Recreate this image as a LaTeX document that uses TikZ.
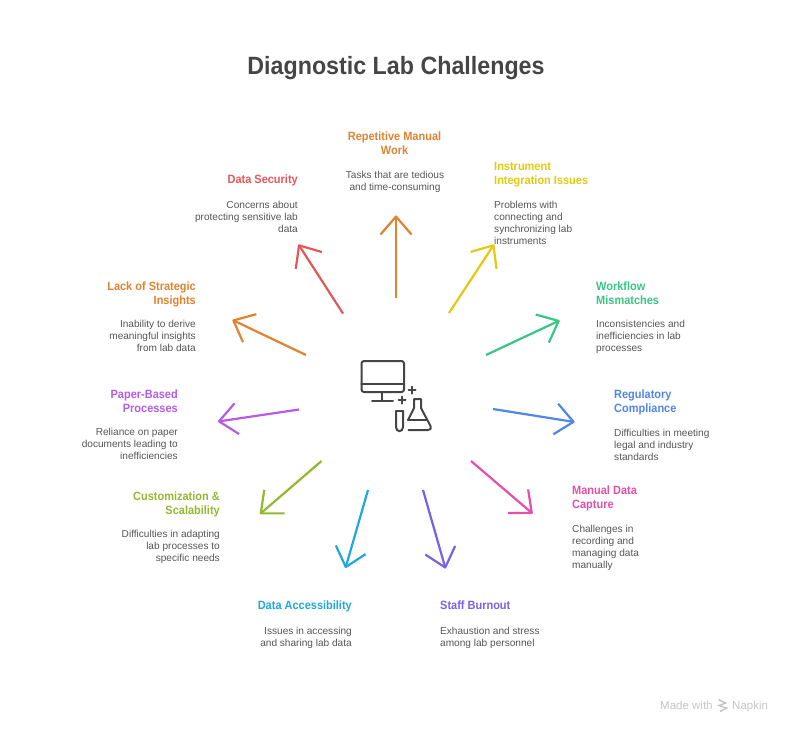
\documentclass[tikz,border=0pt]{standalone}
\usepackage{fontspec}
\setmainfont{Liberation Sans}
\newfontfamily\hfont[FakeStretch=0.915]{Liberation Sans}
\newfontfamily\tfont[FakeStretch=0.93]{Liberation Sans}
\usetikzlibrary{arrows.meta}
\definecolor{tcol}{HTML}{454545}
\definecolor{bcol}{HTML}{555555}
\definecolor{fcol}{HTML}{C4C4C4}
\definecolor{acol}{HTML}{E0822F}
\definecolor{ycol}{HTML}{E5C80F}
\definecolor{gcol}{HTML}{38C585}
\definecolor{bluecol}{HTML}{4F86E8}
\definecolor{pcol}{HTML}{E54FA8}
\definecolor{vcol}{HTML}{7A60E8}
\definecolor{ccol}{HTML}{1FA8DC}
\definecolor{lcol}{HTML}{93B82E}
\definecolor{mcol}{HTML}{B45CE5}
\definecolor{rcol}{HTML}{E55757}
\pgfdeclarearrow{
  name=OpenVee,
  setup code={
    \pgfarrowssetbackend{-18pt}
    \pgfarrowssetlineend{-0.5pt}
    \pgfarrowssettipend{1pt}
    \pgfarrowshullpoint{0pt}{0pt}
    \pgfarrowshullpoint{-18pt}{15.5pt}
    \pgfarrowshullpoint{-18pt}{-15.5pt}
  },
  drawing code={
    \pgfsetdash{}{0pt}
    \pgfsetroundjoin
    \pgfpathmoveto{\pgfqpoint{-18pt}{15.5pt}}
    \pgfpathlineto{\pgfqpoint{0pt}{0pt}}
    \pgfpathlineto{\pgfqpoint{-18pt}{-15.5pt}}
    \pgfusepathqstroke
  }
}
\tikzset{
 x=1pt,y=-1pt,
 arr/.style={line width=2.2pt,-{OpenVee},#1},
 hd/.style={font=\hfont\fontsize{12}{14}\selectfont\bfseries,inner sep=0pt,align=#1},
 bd/.style={font=\fontsize{10.1}{12}\selectfont,text=bcol,inner sep=0pt,align=#1},
 ic/.style={line width=2pt,draw=tcol,line cap=round,line join=round},
 foot/.style={font=\fontsize{11.5}{14}\selectfont,text=fcol,inner sep=0pt}
}
\begin{document}
\begin{tikzpicture}
\useasboundingbox (0,0) rectangle (792,732);
\node[font=\tfont\fontsize{25}{30}\selectfont\bfseries,text=tcol,inner sep=0pt] (title) at (396,68) {Diagnostic Lab Challenges};

\node[hd=center,text=acol] (h1) at (394.5,143) {Repetitive Manual\\Work};
\node[bd=center] (b1) at (395,181.5) {Tasks that are tedious\\and time-consuming};
\node[hd=left,text=ycol,anchor=north west] (h2) at (494,162) {Instrument\\Integration Issues};
\node[bd=left,anchor=north west] (b2) at (494,200.5) {Problems with\\connecting and\\synchronizing lab\\instruments};
\node[hd=left,text=gcol,anchor=north west] (h3) at (596,282) {Workflow\\Mismatches};
\node[bd=left,anchor=north west] (b3) at (596,320) {Inconsistencies and\\inefficiencies in lab\\processes};
\node[hd=left,text=bluecol,anchor=north west] (h4) at (614,390) {Regulatory\\Compliance};
\node[bd=left,anchor=north west] (b4) at (614,428.5) {Difficulties in meeting\\legal and industry\\standards};
\node[hd=left,text=pcol,anchor=north west] (h5) at (572,486) {Manual Data\\Capture};
\node[bd=left,anchor=north west] (b5) at (572,524.5) {Challenges in\\recording and\\managing data\\manually};
\node[hd=left,text=vcol,anchor=north west] (h6) at (440,601) {Staff Burnout};
\node[bd=left,anchor=north west] (b6) at (440,626.5) {Exhaustion and stress\\among lab personnel};
\node[hd=right,text=ccol,anchor=north east] (h7) at (352,601) {Data Accessibility};
\node[bd=right,anchor=north east] (b7) at (352,626.5) {Issues in accessing\\and sharing lab data};
\node[hd=right,text=lcol,anchor=north east] (h8) at (220,492) {Customization \&\\Scalability};
\node[bd=right,anchor=north east] (b8) at (220,530) {Difficulties in adapting\\lab processes to\\specific needs};
\node[hd=right,text=mcol,anchor=north east] (h9) at (178,390) {Paper-Based\\Processes};
\node[bd=right,anchor=north east] (b9) at (178,428) {Reliance on paper\\documents leading to\\inefficiencies};
\node[hd=right,text=acol,anchor=north east] (h10) at (196,282) {Lack of Strategic\\Insights};
\node[bd=right,anchor=north east] (b10) at (196,320) {Inability to derive\\meaningful insights\\from lab data};
\node[hd=right,text=rcol,anchor=north east] (h11) at (298,175) {Data Security};
\node[bd=right,anchor=north east] (b11) at (298,200.5) {Concerns about\\protecting sensitive lab\\data};

\coordinate (s1) at (396,298); \coordinate (e1) at (396,215.5);
\coordinate (s2) at (449,313); \coordinate (e2) at (494,244.5);
\coordinate (s3) at (486,355); \coordinate (e3) at (559.5,320.5);
\coordinate (s4) at (493,409); \coordinate (e4) at (574.5,422);
\coordinate (s5) at (471,461); \coordinate (e5) at (532.5,513.5);
\coordinate (s6) at (423,490); \coordinate (e6) at (445.5,568.5);
\coordinate (s7) at (368,490); \coordinate (e7) at (345.5,568);
\coordinate (s8) at (321.5,461); \coordinate (e8) at (260,514);
\coordinate (s9) at (299,409.5); \coordinate (e9) at (218,421.5);
\coordinate (s10) at (306,355); \coordinate (e10) at (232.5,320);
\coordinate (s11) at (343,313.5); \coordinate (e11) at (298.5,244.5);
\draw[arr=acol] (s1) -- (e1);
\draw[arr=ycol] (s2) -- (e2);
\draw[arr=gcol] (s3) -- (e3);
\draw[arr=bluecol] (s4) -- (e4);
\draw[arr=pcol] (s5) -- (e5);
\draw[arr=vcol] (s6) -- (e6);
\draw[arr=ccol] (s7) -- (e7);
\draw[arr=lcol] (s8) -- (e8);
\draw[arr=mcol] (s9) -- (e9);
\draw[arr=acol] (s10) -- (e10);
\draw[arr=rcol] (s11) -- (e11);

% centre icon
\draw[ic,rounded corners=2.5pt] (361.5,361) rectangle (404,392);
\draw[ic,line width=2.4pt] (361.5,384) -- (404,384);
\draw[ic] (382,392) -- (382,400.5);
\draw[ic] (372,400.5) -- (393,400.5);
\draw[ic] (412,386.5) -- (412,393.5) (408.5,390) -- (415.5,390);
\draw[ic] (402,396.5) -- (402,403.5) (398.5,400) -- (405.5,400);
\draw[ic] (396,411) -- (403,411);
\draw[ic] (396,411) -- (396,427) .. controls (396,432.5) and (403,432.5) .. (403,427) -- (403,411);
\draw[ic] (408,420) -- (414,408) -- (414,399) -- (421,399) -- (421,408) -- (430.5,426) .. controls (431.5,428.5) and (430.5,430) .. (428,430) -- (408.5,430);
\draw[ic] (408,420) -- (426,420);

% footer
\node[foot,anchor=base west] (made) at (660,709) {Made with};
\node[foot,anchor=base west] (nap) at (732,709) {Napkin};
\draw[fcol,line width=1.4pt] (718.5,699.5) -- (725.5,703) -- (719,705.5) -- (726.5,708) -- (720,711.5);
\end{tikzpicture}
\end{document}
